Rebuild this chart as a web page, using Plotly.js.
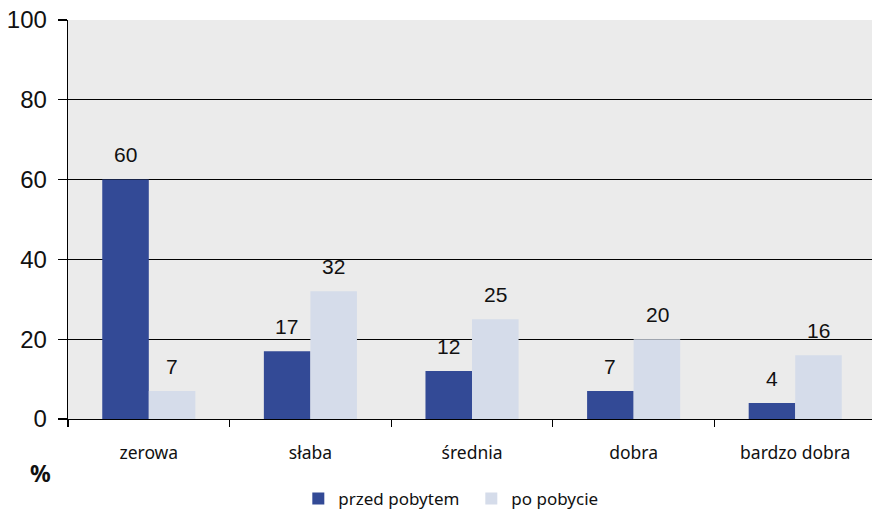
<!DOCTYPE html>
<html><head><meta charset="utf-8">
<script src="https://cdn.plot.ly/plotly-3.0.1.min.js"></script>
<style>html,body{margin:0;padding:0;background:#fff}</style>
</head><body><div id="chart" style="width:872px;height:510px"></div>
<script>
const categories = ["zerowa", "słaba", "średnia", "dobra", "bardzo dobra"];
const przedPobytem = [60, 17, 12, 7, 4];
const poPobycie = [7, 32, 25, 20, 16];
const seriesNames = ["przed pobytem", "po pobycie"];
const yTicks = [0, 20, 40, 60, 80, 100];

const colors = ["#334A96", "#D5DCEA"];
const traces = [przedPobytem, poPobycie].map((vals, i) => ({
  type: "bar", x: categories, y: vals, name: seriesNames[i],
  marker: {color: colors[i], line: {width: 0}}, hoverinfo: "skip"
}));

const annotations = [];
[przedPobytem, poPobycie].forEach((vals, i) => {
  vals.forEach((v, j) => {
    annotations.push({x: categories[j], y: v, xref: "x", yref: "y", text: String(v),
      showarrow: false, xshift: i === 0 ? -23.5 : 23.5, yshift: 25, yanchor: "middle",
      font: {family: "Liberation Sans, Arial", size: 21, color: "#111"}});
  });
});
annotations.push({xref: "paper", yref: "paper", x: -28/804, y: -54/399, text: "<b>%</b>",
  showarrow: false, xanchor: "center", yanchor: "middle",
  font: {family: "Noto Sans, Open Sans", size: 23, color: "#111"}});

const layout = {
  width: 872, height: 510,
  margin: {l: 68, r: 0, t: 20, b: 91, autoexpand: false},
  paper_bgcolor: "#fff", plot_bgcolor: "#EBEBEB",
  barmode: "group", bargap: 0.424, bargroupgap: 0,
  showlegend: true,
  legend: {orientation: "h", xref: "container", yref: "container", x: 0.5405, y: 11/510, xanchor: "center", yanchor: "middle",
    font: {family: "Noto Sans, Open Sans", size: 17, color: "#111"}, traceorder: "normal", itemwidth: 30,
    entrywidth: 128, bgcolor: "rgba(0,0,0,0)"},
  xaxis: {type: "category", range: [-0.5, 4.475], showgrid: false, showline: true, linecolor: "#000", linewidth: 1.3,
    ticks: "outside", tickson: "boundaries", ticklen: 7, tickcolor: "#000", tickwidth: 1.3,
    ticklabelstandoff: 18, tickangle: 0,
    tickfont: {family: "Noto Sans, Open Sans", size: 17.5, color: "#111"}, fixedrange: true},
  yaxis: {range: [0, 100], tickvals: yTicks, ticktext: yTicks.map(String), showgrid: true, gridcolor: "#000", gridwidth: 1.3,
    showline: true, linecolor: "#000", linewidth: 1.3, zeroline: false,
    ticks: "outside", ticklen: 9, tickcolor: "#000", tickwidth: 1.3, ticklabelstandoff: 6,
    tickfont: {family: "Liberation Sans, Arial", size: 24, color: "#111"}, fixedrange: true},
  annotations: annotations
};
Plotly.newPlot("chart", traces, layout, {displayModeBar: false, staticPlot: true});
</script></body></html>
